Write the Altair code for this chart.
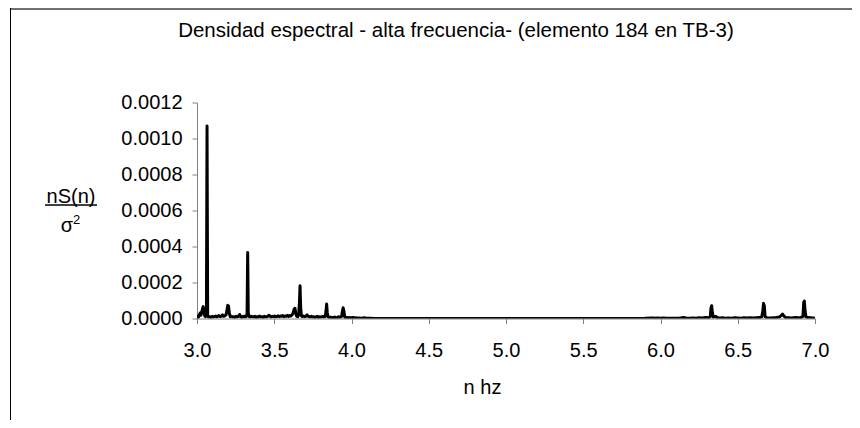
import altair as alt
import pandas as pd

# ---- data ----
freq = [
    3.000, 3.005, 3.010, 3.015, 3.020, 3.025, 3.030, 3.035, 3.040, 3.045,
    3.050, 3.055, 3.061, 3.065, 3.069, 3.075, 3.082, 3.090, 3.098, 3.105,
    3.112, 3.120, 3.128, 3.135, 3.142, 3.150, 3.158, 3.165, 3.172, 3.180,
    3.188, 3.194, 3.199, 3.204, 3.209, 3.215, 3.222, 3.230, 3.238, 3.245,
    3.252, 3.258, 3.264, 3.270, 3.276, 3.282, 3.290, 3.298, 3.305, 3.312,
    3.318, 3.324, 3.328, 3.332, 3.338, 3.345, 3.352, 3.360, 3.368, 3.375,
    3.382, 3.390, 3.398, 3.405, 3.412, 3.420, 3.428, 3.435, 3.442, 3.450,
    3.458, 3.465, 3.472, 3.480, 3.488, 3.495, 3.502, 3.510, 3.518, 3.525,
    3.532, 3.540, 3.548, 3.555, 3.562, 3.570, 3.578, 3.585, 3.592, 3.600,
    3.608, 3.615, 3.622, 3.628, 3.634, 3.640, 3.646, 3.652, 3.658, 3.663,
    3.667, 3.671, 3.676, 3.682, 3.690, 3.698, 3.705, 3.712, 3.718, 3.725,
    3.732, 3.740, 3.748, 3.755, 3.762, 3.770, 3.778, 3.785, 3.792, 3.800,
    3.808, 3.815, 3.822, 3.830, 3.835, 3.839, 3.843, 3.848, 3.855, 3.862,
    3.870, 3.878, 3.885, 3.892, 3.900, 3.908, 3.915, 3.922, 3.930, 3.936,
    3.941, 3.946, 3.951, 3.956, 3.963, 3.970, 3.978, 3.985, 3.992, 4.000,
    4.010, 4.020, 4.030, 4.040, 4.050, 4.060, 4.070, 4.080, 4.090, 4.100,
    4.120, 4.150, 4.300, 4.600, 4.900, 5.200, 5.500, 5.800, 5.900, 5.950,
    5.960, 5.980, 6.000, 6.020, 6.040, 6.060, 6.080, 6.100, 6.120, 6.150,
    6.170, 6.190, 6.210, 6.230, 6.250, 6.270, 6.290, 6.310, 6.322, 6.327,
    6.331, 6.336, 6.342, 6.350, 6.358, 6.365, 6.375, 6.390, 6.400, 6.420,
    6.440, 6.460, 6.480, 6.500, 6.520, 6.540, 6.560, 6.580, 6.600, 6.620,
    6.640, 6.655, 6.662, 6.667, 6.672, 6.677, 6.690, 6.710, 6.730, 6.750,
    6.770, 6.782, 6.790, 6.798, 6.810, 6.830, 6.850, 6.870, 6.890, 6.910,
    6.922, 6.927, 6.931, 6.936, 6.942, 6.955, 6.970, 6.985, 7.000,
]
dens = [
    0.000000, 0.000012, 0.000008, 0.000020, 0.000030, 0.000018, 0.000035, 0.000050, 0.000066, 0.000040,
    0.000015, 0.000010, 0.000020, 0.001070, 0.000020, 0.000008, 0.000010, 0.000006, 0.000012, 0.000008,
    0.000010, 0.000014, 0.000009, 0.000012, 0.000016, 0.000010, 0.000013, 0.000020, 0.000012, 0.000015,
    0.000020, 0.000045, 0.000073, 0.000070, 0.000030, 0.000010, 0.000012, 0.000008, 0.000010, 0.000006,
    0.000012, 0.000008, 0.000010, 0.000015, 0.000022, 0.000010, 0.000006, 0.000012, 0.000008, 0.000014,
    0.000010, 0.000020, 0.000367, 0.000030, 0.000010, 0.000008, 0.000012, 0.000010, 0.000008, 0.000012,
    0.000006, 0.000010, 0.000008, 0.000014, 0.000008, 0.000010, 0.000006, 0.000012, 0.000008, 0.000010,
    0.000012, 0.000018, 0.000014, 0.000008, 0.000012, 0.000010, 0.000014, 0.000008, 0.000012, 0.000015,
    0.000010, 0.000014, 0.000012, 0.000016, 0.000010, 0.000014, 0.000012, 0.000018, 0.000012, 0.000016,
    0.000014, 0.000020, 0.000030, 0.000050, 0.000057, 0.000025, 0.000012, 0.000010, 0.000020, 0.000090,
    0.000182, 0.000060, 0.000015, 0.000010, 0.000014, 0.000010, 0.000012, 0.000020, 0.000014, 0.000010,
    0.000008, 0.000012, 0.000008, 0.000010, 0.000006, 0.000008, 0.000012, 0.000006, 0.000010, 0.000008,
    0.000010, 0.000012, 0.000008, 0.000012, 0.000040, 0.000080, 0.000035, 0.000010, 0.000006, 0.000008,
    0.000004, 0.000006, 0.000004, 0.000008, 0.000004, 0.000006, 0.000010, 0.000006, 0.000008, 0.000012,
    0.000040, 0.000060, 0.000040, 0.000008, 0.000004, 0.000006, 0.000003, 0.000005, 0.000002, 0.000004,
    0.000006, 0.000002, 0.000004, 0.000002, 0.000003, 0.000001, 0.000002, 0.000004, 0.000003, 0.000002,
    0.000001, 0.000000, 0.000000, 0.000000, 0.000000, 0.000000, 0.000000, 0.000000, 0.000001, 0.000003,
    0.000001, 0.000003, 0.000001, 0.000003, 0.000002, 0.000001, 0.000002, 0.000001, 0.000002, 0.000005,
    0.000002, 0.000002, 0.000003, 0.000002, 0.000004, 0.000003, 0.000005, 0.000004, 0.000010, 0.000060,
    0.000071, 0.000030, 0.000008, 0.000010, 0.000012, 0.000006, 0.000004, 0.000003, 0.000004, 0.000002,
    0.000003, 0.000002, 0.000004, 0.000003, 0.000002, 0.000004, 0.000003, 0.000004, 0.000003, 0.000004,
    0.000005, 0.000008, 0.000040, 0.000084, 0.000070, 0.000010, 0.000004, 0.000003, 0.000004, 0.000005,
    0.000008, 0.000018, 0.000025, 0.000015, 0.000005, 0.000004, 0.000003, 0.000005, 0.000004, 0.000006,
    0.000012, 0.000090, 0.000097, 0.000040, 0.000008, 0.000005, 0.000004, 0.000003, 0.000002,
]
x_ticks = [3.0, 3.5, 4.0, 4.5, 5.0, 5.5, 6.0, 6.5, 7.0]
y_ticks = [0.0, 0.0002, 0.0004, 0.0006, 0.0008, 0.0010, 0.0012]
title_text = "Densidad espectral - alta frecuencia- (elemento 184 en TB-3)"
x_title = "n hz"
y_num = "nS(n)"
y_sigma = "σ"
y_exp = "2"

FONT = "Liberation Sans"
W, H = 618, 216
PAD = {"left": 189, "top": 94.5, "right": 37, "bottom": 101.5}

df = pd.DataFrame({"n": freq, "s": dens})
one = pd.DataFrame({"k": [0]})

line = alt.Chart(df).mark_line(
    color="black", strokeWidth=3, strokeJoin="round", clip=True
).encode(
    x=alt.X(
        "n:Q",
        scale=alt.Scale(domain=[3, 7], nice=False, zero=False),
        axis=alt.Axis(
            values=x_ticks, format=".1f", title=x_title,
            titleX=285, titleY=74.5, titleBaseline="alphabetic",
            titleAlign="center",
        ),
    ),
    y=alt.Y(
        "s:Q",
        scale=alt.Scale(domain=[0, 0.0012], nice=False),
        axis=alt.Axis(values=y_ticks, format=".4f", title=None, labelPadding=10),
    ),
)

title = alt.Chart(one).mark_text(
    font=FONT, fontSize=20.5, align="center", baseline="alphabetic", color="black"
).encode(x=alt.value(259), y=alt.value(-65.5), text=alt.value(title_text))

ynum = alt.Chart(one).mark_text(
    font=FONT, fontSize=20, align="center", baseline="alphabetic", color="black"
).encode(x=alt.value(-126), y=alt.value(100.5), text=alt.value(y_num))

ysig = alt.Chart(one).mark_text(
    font=FONT, fontSize=20, align="right", baseline="alphabetic", color="black"
).encode(x=alt.value(-124), y=alt.value(129.5), text=alt.value(y_sigma))

yexp = alt.Chart(one).mark_text(
    font=FONT, fontSize=13, align="left", baseline="alphabetic", color="black"
).encode(x=alt.value(-124), y=alt.value(121.5), text=alt.value(y_exp))

uline = alt.Chart(one).mark_rule(color="black", strokeWidth=1.5).encode(
    x=alt.value(-152), x2=alt.value(-100), y=alt.value(102.5)
)

frame_top = alt.Chart(one).mark_rule(color="#404040", strokeWidth=1.5).encode(
    x=alt.value(-187), x2=alt.value(655), y=alt.value(-93.5)
)
frame_left = alt.Chart(one).mark_rule(color="black", strokeWidth=1).encode(
    x=alt.value(-186.5), y=alt.value(-94.5), y2=alt.value(H + 101.5)
)

chart = alt.layer(frame_top, frame_left, line, title, ynum, ysig, yexp, uline).properties(
    width=W, height=H, autosize=alt.AutoSizeParams(type="none"), padding=PAD
).configure_view(stroke=None).configure_axis(
    grid=False,
    domainColor="#808080",
    domainWidth=1,
    tickColor="#808080",
    tickSize=5,
    labelFont=FONT,
    labelFontSize=20,
    labelColor="black",
    labelFlush=False,
    titleFont=FONT,
    titleFontSize=20,
    titleFontWeight="normal",
    titleColor="black",
).configure_axisX(labelPadding=16.5)

chart.save("out.html", embed_options={"renderer": "svg", "actions": False})
